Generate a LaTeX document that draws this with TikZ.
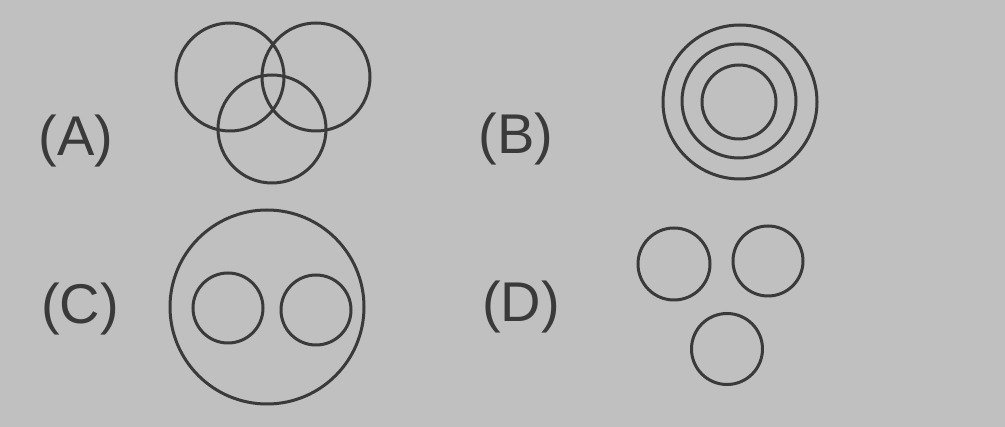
\documentclass[tikz,border=0pt]{standalone}
\usepackage{fontspec}
\setmainfont{Liberation Sans}
\definecolor{bg}{RGB}{192,192,192}
\definecolor{ink}{RGB}{58,58,58}
\begin{document}
\begin{tikzpicture}[x=1pt,y=-1pt,
  ring/.style={draw=ink,line width=3pt},
  lbl/.style={text=ink,font=\fontsize{56}{56}\selectfont,inner sep=0pt,anchor=center}]
\fill[bg] (0,0) rectangle (1005,427);
\useasboundingbox (0,0) rectangle (1005,427);
% (A)
\node[lbl] (la) at (76,141) {(A)};
\draw[ring] (230,77) circle (54);
\draw[ring] (316,77) circle (54);
\draw[ring] (272,129) circle (54);
% (B)
\node[lbl] (lb) at (516,139) {(B)};
\draw[ring] (740,102) circle (77);
\draw[ring] (739,101) circle (57);
\draw[ring] (739,102) circle (37);
% (C)
\node[lbl] (lc) at (80,309) {(C)};
\draw[ring] (267,307) circle (97);
\draw[ring] (228,308) circle (35);
\draw[ring] (316,310) circle (35);
% (D)
\node[lbl] (ld) at (521,307) {(D)};
\draw[ring] (674,264) circle (36);
\draw[ring] (768,261) circle (35);
\draw[ring] (727,349) circle (35.5);
\end{tikzpicture}
\end{document}
